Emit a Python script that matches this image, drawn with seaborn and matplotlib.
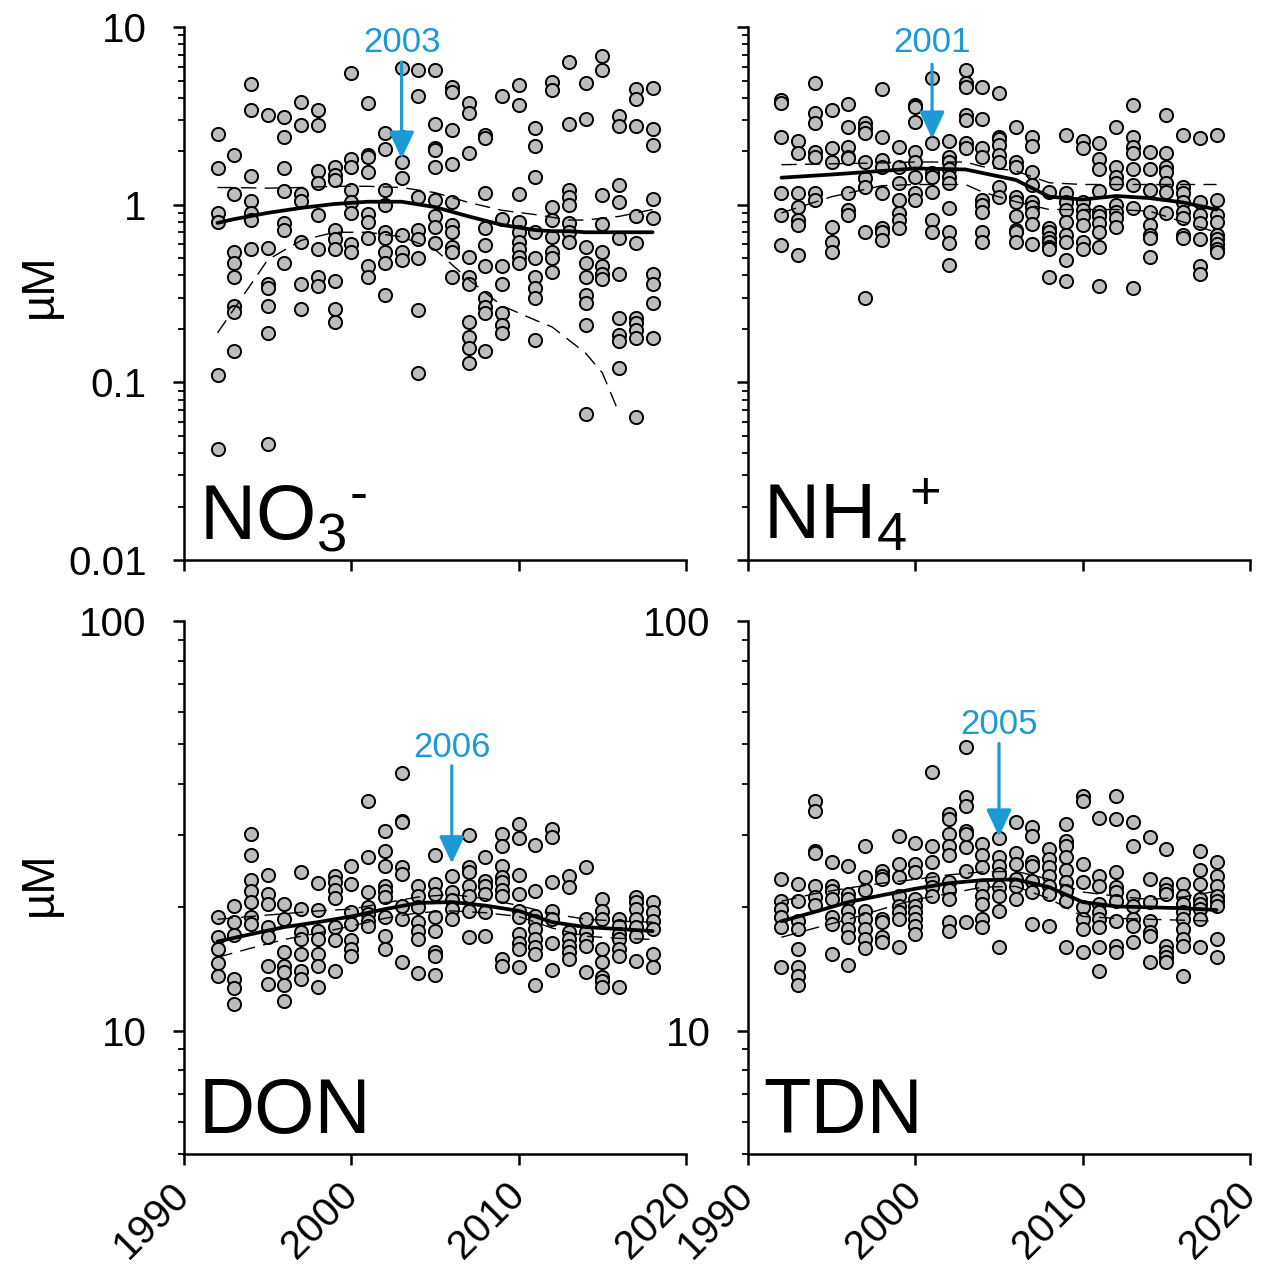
import numpy as np
import pandas as pd
import seaborn as sns
import matplotlib.pyplot as plt
from matplotlib.ticker import LogLocator, NullFormatter, FixedLocator, FixedFormatter

sns.set_style("ticks")
plt.rcParams['font.family'] = ['Liberation Sans', 'DejaVu Sans']
plt.rcParams['mathtext.fontset'] = 'custom'
plt.rcParams['mathtext.rm'] = 'Liberation Sans'
plt.rcParams['mathtext.it'] = 'Liberation Sans'
plt.rcParams['mathtext.default'] = 'regular'
plt.rcParams['text.color'] = 'black'
plt.rcParams['axes.edgecolor'] = 'black'
plt.rcParams['xtick.color'] = 'black'
plt.rcParams['ytick.color'] = 'black'

years = list(range(1992, 2019))

# samples per year (uM)
no3 = [
    [2.5, 1.6, 0.9, 0.8, 0.11, 0.042],
    [1.9, 1.15, 0.54, 0.47, 0.39, 0.27, 0.25, 0.15],
    [4.8, 3.4, 1.45, 1.05, 0.9, 0.82, 0.56],
    [3.2, 0.57, 0.36, 0.34, 0.27, 0.19, 0.045],
    [3.1, 2.4, 1.6, 1.2, 0.79, 0.72, 0.47],
    [3.8, 2.8, 1.15, 1.05, 0.62, 0.36, 0.26],
    [3.4, 2.8, 1.54, 1.33, 0.87, 0.56, 0.39, 0.35],
    [1.64, 1.48, 1.38, 0.72, 0.64, 0.56, 0.37, 0.26, 0.22],
    [5.55, 1.82, 1.64, 1.21, 1.03, 0.90, 0.60, 0.54],
    [3.76, 1.91, 1.86, 1.52, 0.89, 0.80, 0.65, 0.45, 0.39],
    [2.55, 2.07, 1.21, 1.0, 0.70, 0.65, 0.54, 0.47, 0.31],
    [5.9, 2.42, 1.73, 1.42, 0.68, 0.54, 0.49],
    [5.77, 4.07, 1.10, 0.72, 0.64, 0.50, 0.256, 0.113],
    [5.77, 2.83, 2.1, 2.04, 1.64, 1.07, 0.86, 0.75, 0.61],
    [4.63, 4.33, 2.65, 1.70, 1.03, 0.77, 0.70, 0.58, 0.54, 0.39],
    [3.76, 3.3, 1.96, 0.51, 0.39, 0.36, 0.22, 0.18, 0.156, 0.128],
    [2.48, 2.39, 1.17, 0.74, 0.59, 0.45, 0.30, 0.266, 0.246, 0.15],
    [4.07, 0.83, 0.45, 0.36, 0.246, 0.21, 0.19],
    [4.75, 3.66, 1.15, 0.80, 0.70, 0.62, 0.56, 0.51, 0.47],
    [2.72, 2.15, 1.44, 0.70, 0.50, 0.39, 0.34, 0.30, 0.173],
    [4.94, 4.4, 0.97, 0.82, 0.66, 0.54, 0.50, 0.42],
    [6.4, 2.86, 1.21, 1.10, 1.0, 0.79, 0.70, 0.62],
    [4.87, 3.05, 0.58, 0.47, 0.39, 0.31, 0.28, 0.21, 0.066],
    [6.9, 5.77, 1.14, 0.78, 0.54, 0.45, 0.41, 0.38],
    [3.14, 2.79, 1.30, 1.03, 0.65, 0.41, 0.23, 0.185, 0.17, 0.12],
    [4.46, 3.96, 2.79, 0.86, 0.61, 0.23, 0.216, 0.198, 0.178, 0.064],
    [4.57, 2.68, 2.18, 1.08, 0.84, 0.41, 0.36, 0.28, 0.178],
]

nh4 = [
    [3.9, 3.76, 2.42, 1.17, 0.88, 0.59],
    [2.27, 1.96, 1.17, 0.97, 0.82, 0.77, 0.52],
    [4.87, 3.3, 2.9, 1.99, 1.86, 1.17, 1.07],
    [3.43, 2.1, 1.73, 0.75, 0.62, 0.54],
    [3.7, 2.75, 2.12, 1.86, 1.84, 1.17, 0.94, 0.87],
    [2.9, 2.72, 2.55, 1.73, 1.42, 1.26, 0.70, 0.30],
    [4.5, 2.42, 1.79, 1.64, 1.17, 0.74, 0.70, 0.63],
    [2.12, 1.64, 1.33, 1.07, 0.90, 0.82, 0.74],
    [3.66, 3.57, 2.94, 1.99, 1.73, 1.44, 1.17, 1.07],
    [5.2, 2.24, 1.5, 1.44, 1.18, 0.82, 0.70],
    [2.27, 1.86, 1.73, 1.58, 1.44, 1.33, 0.96, 0.70, 0.61, 0.46],
    [5.77, 4.87, 4.63, 3.2, 3.0, 2.24, 2.1],
    [4.63, 3.05, 2.1, 1.86, 1.07, 1.0, 0.91, 0.70, 0.62],
    [4.27, 2.42, 2.33, 2.18, 1.91, 1.75, 1.26, 1.11],
    [2.75, 1.73, 1.64, 1.11, 1.04, 0.86, 0.72, 0.70, 0.62],
    [2.42, 2.15, 1.53, 1.30, 1.03, 0.97, 0.90, 0.78, 0.60],
    [1.18, 0.74, 0.70, 0.65, 0.62, 0.58, 0.56, 0.39],
    [2.48, 1.17, 1.04, 0.94, 0.80, 0.68, 0.62, 0.49, 0.37],
    [2.27, 2.1, 1.04, 0.94, 0.86, 0.77, 0.62, 0.56],
    [2.24, 1.82, 1.58, 1.2, 0.91, 0.86, 0.79, 0.70, 0.58, 0.35],
    [2.75, 1.64, 1.44, 1.33, 1.0, 0.91, 0.84, 0.75],
    [3.66, 2.42, 2.12, 1.96, 1.58, 1.30, 0.96, 0.34],
    [1.99, 1.58, 1.21, 0.91, 0.77, 0.68, 0.65, 0.51],
    [3.2, 1.96, 1.64, 1.53, 1.33, 1.18, 0.90],
    [2.48, 1.26, 1.17, 1.04, 0.91, 0.84, 0.68, 0.65],
    [2.39, 1.04, 0.88, 0.79, 0.64, 0.45, 0.41],
    [2.48, 1.07, 0.88, 0.80, 0.68, 0.64, 0.60, 0.56, 0.54],
]

don = [
    [18.9, 16.9, 15.8, 14.6, 13.6],
    [20.2, 18.4, 17.1, 13.4, 12.7, 11.6],
    [30.2, 26.9, 23.3, 21.9, 20.6, 18.9, 18.2],
    [24.0, 21.5, 20.4, 17.9, 16.9, 14.4, 13.0],
    [20.4, 18.7, 15.6, 14.4, 13.9, 12.9, 11.8],
    [24.4, 19.8, 17.4, 16.7, 15.4, 14.0, 13.4],
    [22.9, 19.7, 17.5, 16.7, 15.4, 14.4, 12.8],
    [23.8, 23.0, 22.0, 21.1, 17.9, 16.6, 14.0],
    [25.2, 22.8, 19.5, 18.2, 16.6, 15.8, 15.2],
    [36.3, 26.5, 21.8, 20.0, 19.3, 18.5, 18.0],
    [30.7, 27.4, 25.2, 22.5, 21.9, 21.2, 18.9, 17.0, 15.8],
    [42.5, 32.4, 32.3, 25.1, 24.1, 20.1, 18.7, 14.7],
    [22.5, 21.3, 20.0, 18.4, 17.5, 16.7, 13.8],
    [26.9, 22.8, 21.5, 18.9, 17.5, 15.6, 15.2, 13.7],
    [23.8, 21.8, 20.8, 19.8, 18.7],
    [30.0, 25.1, 24.4, 22.5, 21.3, 19.6, 16.9],
    [26.6, 23.2, 22.5, 21.5, 19.5, 17.0],
    [30.2, 28.2, 25.2, 23.7, 23.0, 22.1, 21.3, 15.0, 14.4],
    [31.9, 29.5, 24.0, 21.6, 19.6, 18.9, 17.2, 16.4, 15.8, 14.3],
    [28.4, 21.9, 19.0, 18.5, 17.7, 16.7, 16.0, 15.4, 12.9],
    [31.0, 29.7, 23.0, 19.6, 18.7, 16.4, 14.1],
    [23.8, 22.4, 17.4, 16.7, 16.1, 15.6, 15.0],
    [25.1, 18.7, 17.4, 16.7, 16.1, 13.9],
    [20.9, 19.6, 18.7, 15.8, 14.7, 13.5, 13.2, 12.8],
    [18.7, 18.0, 17.2, 16.7, 15.8, 15.2, 12.8],
    [21.2, 20.6, 19.8, 18.7, 17.9, 17.0, 14.8],
    [20.6, 19.5, 18.5, 17.7, 15.4, 14.3],
]

tdn = [
    [23.4, 20.7, 19.8, 18.9, 17.9, 14.3],
    [22.8, 20.7, 18.5, 17.7, 15.8, 14.3, 13.6, 12.9],
    [36.3, 34.3, 27.4, 27.2, 22.5, 21.2, 20.3],
    [25.8, 22.5, 21.9, 20.9, 18.9, 18.2, 15.4],
    [25.2, 21.5, 20.9, 19.6, 18.7, 17.7, 16.9, 14.5],
    [28.2, 23.7, 22.1, 19.6, 18.7, 17.7, 16.7, 15.9],
    [24.5, 23.8, 23.4, 18.7, 18.4, 16.9, 16.5],
    [29.8, 25.5, 23.7, 21.3, 20.1, 19.5, 18.7, 16.0],
    [28.7, 25.5, 24.4, 20.9, 20.1, 19.5, 18.7, 18.0, 17.2],
    [42.9, 28.2, 25.8, 23.4, 22.4, 21.3],
    [33.7, 32.8, 30.2, 28.2, 26.9, 23.0, 22.1, 20.9, 18.4, 17.5],
    [49.3, 37.1, 35.3, 30.7, 30.2, 28.0, 24.5, 18.4],
    [28.5, 26.9, 25.1, 22.5, 21.3, 20.4, 18.7, 17.9],
    [29.5, 26.6, 25.2, 24.1, 22.4, 21.3, 19.6, 16.0],
    [32.3, 27.2, 25.5, 23.4, 22.5, 20.9],
    [31.4, 29.8, 25.8, 25.2, 23.2, 21.8, 18.2],
    [27.7, 26.2, 25.1, 23.8, 22.5, 21.5, 18.0],
    [32.0, 29.0, 28.2, 26.5, 24.7, 23.0, 21.9, 20.7, 16.0],
    [37.3, 36.3, 25.5, 23.0, 20.0, 18.7, 17.7, 15.6],
    [33.1, 23.8, 22.5, 20.4, 19.5, 18.7, 17.9, 16.0, 14.0],
    [37.3, 32.9, 24.4, 22.4, 21.8, 20.7, 18.5, 16.1, 15.6],
    [32.3, 28.2, 21.3, 20.1, 18.7, 18.0, 16.5],
    [29.7, 23.4, 20.6, 18.5, 17.4, 17.0, 14.7],
    [27.7, 22.8, 22.1, 21.5, 16.1, 15.6, 15.1, 14.7],
    [22.8, 21.3, 20.4, 19.5, 18.7, 17.7, 16.7, 16.1, 13.6],
    [27.4, 24.7, 22.8, 20.9, 20.4, 19.8, 18.7, 16.0],
    [25.8, 23.8, 22.5, 21.3, 20.7, 20.1, 16.7, 15.1],
]

# smoothed trend with upper / lower bands
no3_fx = [1992, 1993, 1995, 1997, 1999, 2001, 2003, 2005, 2007, 2009, 2011, 2012, 2013, 2014, 2015, 2016, 2018]
no3_fit = [0.79, 0.83, 0.90, 0.96, 1.01, 1.04, 1.04, 0.97, 0.86, 0.77, 0.72, 0.71, 0.71, 0.70, 0.70, 0.70, 0.70]
no3_hi = [1.25, 1.25, 1.24, 1.25, 1.27, 1.27, 1.25, 1.17, 1.03, 0.93, 0.88, 0.85, 0.82, 0.82, 0.84, 0.86, 0.94]
no3_lo = [0.19, 0.26, 0.49, 0.63, 0.70, 0.70, 0.66, 0.56, 0.38, 0.27, 0.224, 0.205, 0.173, 0.146, 0.113, 0.067, None]

nh4_fx = [1992, 1995, 1998, 2000, 2003, 2004, 2006, 2008, 2010, 2012, 2014, 2016, 2018]
nh4_fit = [1.42, 1.48, 1.55, 1.60, 1.58, 1.51, 1.38, 1.11, 1.07, 1.12, 1.09, 1.03, 0.94]
nh4_hi = [1.68, 1.70, 1.72, 1.74, 1.74, 1.64, 1.55, 1.33, 1.30, 1.30, 1.30, 1.30, 1.30]
nh4_lo = [0.90, 1.11, 1.28, 1.30, 1.30, 1.18, 1.04, 0.94, 0.94, 0.94, 0.92, 0.80, 0.70]

don_fx = [1992, 1994, 1996, 1998, 2000, 2002, 2004, 2006, 2008, 2010, 2012, 2014, 2016, 2018]
don_fit = [16.5, 17.2, 17.9, 18.4, 19.0, 19.8, 20.5, 20.6, 20.2, 19.6, 18.4, 17.9, 17.7, 17.5]
don_hi = [18.7, 19.0, 19.3, 19.6, 19.8, 20.5, 21.2, 21.5, 21.0, 20.2, 19.3, 18.7, 18.5, 18.4]
don_lo = [15.1, 15.9, 16.7, 17.3, 18.0, 18.8, 19.4, 19.6, 19.4, 19.0, 17.8, 17.0, 16.8, 16.7]

tdn_fx = [1992, 1994, 1996, 1998, 2000, 2002, 2004, 2006, 2008, 2010, 2012, 2014, 2016, 2018]
tdn_fit = [18.5, 19.5, 20.6, 21.4, 22.2, 22.9, 23.3, 23.4, 22.4, 20.6, 20.1, 20.0, 19.9, 19.7]
tdn_hi = [20.7, 21.6, 22.3, 22.9, 23.4, 24.0, 24.4, 24.5, 23.4, 21.8, 21.3, 20.9, 21.2, 21.9]
tdn_lo = [16.9, 17.8, 18.7, 19.8, 20.9, 21.6, 22.4, 22.5, 21.0, 19.0, 18.8, 18.7, 18.6, 18.5]

# change-point years marked with arrows: (year, text y, arrow start, arrow tip)
no3_mark = (2003, 8.2, 6.6, 1.75)
nh4_mark = (2001, 8.2, 6.4, 2.27)
don_mark = (2006, 49.0, 45.0, 25.2)
tdn_mark = (2005, 56.0, 51.0, 29.3)

blue = '#1b9ad6'


def to_frame(vals):
    rows = [(y, v) for y, vs in zip(years, vals) for v in vs]
    return pd.DataFrame(rows, columns=['year', 'conc'])


def draw(ax, vals, fx, fit, hi, lo, mark, label, ylim, majors, show_ylab, show_xlab):
    df = to_frame(vals)
    sns.scatterplot(data=df, x='year', y='conc', ax=ax, s=90, color='#bdbdbd',
                    edgecolor='black', linewidth=1.4, zorder=3, legend=False)
    tr = pd.DataFrame({'year': fx, 'fit': fit, 'hi': hi,
                       'lo': [np.nan if v is None else v for v in lo]})
    sns.lineplot(data=tr, x='year', y='fit', ax=ax, color='black', lw=2.7, zorder=4)
    for c in ['hi', 'lo']:
        sub = tr.dropna(subset=[c])
        sns.lineplot(data=sub, x='year', y=c, ax=ax, color='black', lw=1.0,
                     dashes=(11, 6), zorder=4)
    ax.set_yscale('log')
    ax.set_xlim(1990, 2020)
    ax.set_ylim(*ylim)
    ax.set_xlabel('')
    ax.set_ylabel('')
    for s in ['top', 'right']:
        ax.spines[s].set_visible(False)
    for s in ['left', 'bottom']:
        ax.spines[s].set_linewidth(1.8)
    ax.xaxis.set_major_locator(FixedLocator([1990, 2000, 2010, 2020]))
    ax.yaxis.set_major_locator(FixedLocator(majors))
    ax.yaxis.set_minor_locator(LogLocator(base=10, subs=np.arange(2, 10)))
    ax.yaxis.set_minor_formatter(NullFormatter())
    if show_ylab:
        ax.yaxis.set_major_formatter(FixedFormatter([('%g' % m) for m in majors]))
    else:
        ax.yaxis.set_major_formatter(NullFormatter())
    ax.tick_params(axis='both', which='major', direction='out', length=8, width=1.8,
                   labelsize=29, pad=19, colors='black')
    ax.tick_params(axis='y', which='minor', direction='out', length=4.5, width=1.3)
    if show_xlab:
        ax.set_xticklabels(['1990', '2000', '2010', '2020'], rotation=45,
                           ha='right', va='center', rotation_mode='anchor')
        ax.tick_params(axis='x', pad=17)
    else:
        ax.set_xticklabels([])
    yr, ty, ys, yt = mark
    ax.annotate('', xy=(yr, yt), xytext=(yr, ys),
                arrowprops=dict(arrowstyle='-|>,head_width=0.35,head_length=0.75',
                                color=blue, lw=2.3, mutation_scale=22), zorder=5)
    ax.text(yr, ty, str(yr), color=blue, fontsize=25, ha='center', va='center', zorder=5)
    ax.text(0.03, 0.04, label, transform=ax.transAxes, fontsize=56,
            ha='left', va='baseline', color='black', zorder=6)


fig = plt.figure(figsize=(12.71, 12.72), dpi=100)
W, H = 0.395, 0.419
ax1 = fig.add_axes([0.1448, 0.5597, W, H])
ax2 = fig.add_axes([0.5885, 0.5597, W, H])
ax3 = fig.add_axes([0.1448, 0.0928, W, H])
ax4 = fig.add_axes([0.5885, 0.0928, W, H])

draw(ax1, no3, no3_fx, no3_fit, no3_hi, no3_lo, no3_mark, 'NO$_{3}{}^{\\text{-}}$',
     (0.01, 10), [0.01, 0.1, 1, 10], True, False)
draw(ax2, nh4, nh4_fx, nh4_fit, nh4_hi, nh4_lo, nh4_mark, 'NH$_{4}{}^{\\text{+}}$',
     (0.01, 10), [0.01, 0.1, 1, 10], False, False)
draw(ax3, don, don_fx, don_fit, don_hi, don_lo, don_mark, 'DON',
     (5, 100), [10, 100], True, True)
draw(ax4, tdn, tdn_fx, tdn_fit, tdn_hi, tdn_lo, tdn_mark, 'TDN',
     (5, 100), [10, 100], True, True)

fig.text(0.031, 0.775, 'µM', rotation=90, fontsize=33, ha='center', va='center', color='black')
fig.text(0.031, 0.305, 'µM', rotation=90, fontsize=33, ha='center', va='center', color='black')

fig.savefig('out.png', dpi=100)
